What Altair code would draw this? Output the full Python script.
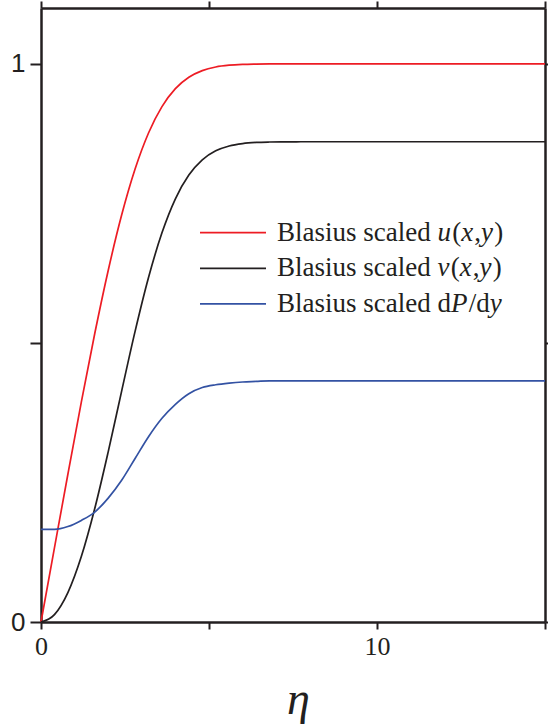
import altair as alt
import pandas as pd

# ---- data ----
eta = [0.0, 0.4, 0.8, 1.2, 1.6, 2.0, 2.4, 2.8, 3.2, 3.6, 4.0, 4.4, 4.8, 5.2,
       5.6, 6.0, 6.4, 6.8, 7.2, 7.6, 8.0, 15.0]
u_vals = [0.0, 0.1328, 0.2647, 0.3938, 0.5168, 0.6298, 0.7290, 0.8115, 0.8761,
          0.9233, 0.9555, 0.9759, 0.9878, 0.9943, 0.9975, 0.9990, 0.9996,
          0.9999, 1.0, 1.0, 1.0, 1.0]
v_vals = [0.0, 0.0133, 0.0528, 0.1173, 0.2033, 0.3048, 0.4136, 0.5206, 0.6172,
          0.6972, 0.7582, 0.8007, 0.8280, 0.8441, 0.8528, 0.8571, 0.8591,
          0.8599, 0.8602, 0.8603, 0.8604, 0.8604]
p_vals = [0.166, 0.166, 0.171, 0.182, 0.197, 0.222, 0.254, 0.293, 0.332, 0.365,
          0.390, 0.409, 0.420, 0.425, 0.428, 0.430, 0.431, 0.432, 0.432, 0.432,
          0.432, 0.432]

series = ["u", "v", "p"]
colors = ["#ed1c24", "#231f20", "#3352a3"]
x_ticks = [0, 5, 10, 15]
y_ticks = [0, 0.5, 1]

rows = []
for s, vals in zip(series, [u_vals, v_vals, p_vals]):
    for e, val in zip(eta, vals):
        rows.append({"eta": e, "val": val, "series": s})
df = pd.DataFrame(rows)

INK = "#231f20"
SERIF = "Liberation Serif"
SANS = "Liberation Sans"
W, H = 504, 614

xscale = alt.Scale(domain=[0, 15], nice=False, zero=False)
yscale = alt.Scale(domain=[0, 1.1], nice=False, zero=False)

common_axis = dict(domainColor=INK, domainWidth=2.5, tickColor=INK,
                   tickWidth=2, grid=False, labelColor=INK, titleColor=INK)

x_axis = alt.Axis(values=x_ticks, orient="bottom", tickSize=7, labelFont=SERIF,
                  labelFontSize=26, labelPadding=4, format="d", labelFlush=False,
                  labelExpr="datum.value == 0 || datum.value == 10 ? datum.label : ''",
                  title="η", titleFont=SERIF, titleFontStyle="italic",
                  titleFontWeight="normal", titleFontSize=46, titlePadding=18,
                  titleX=257, **common_axis)
y_axis = alt.Axis(values=y_ticks, orient="left", tickSize=11, labelFont=SANS,
                  labelFontSize=26, labelPadding=5, format="~g", labelFlush=False,
                  labelExpr="datum.value == 0 || datum.value == 1 ? datum.label : ''",
                  title=None, **common_axis)
x_axis_top = alt.Axis(values=x_ticks, orient="top", tickSize=7, labels=False, title=None,
                      **common_axis)
y_axis_right = alt.Axis(values=y_ticks, orient="right", tickSize=7, labels=False,
                        title=None, **common_axis)

lines = alt.Chart(df).mark_line(strokeWidth=1.7, interpolate="monotone").encode(
    x=alt.X("eta:Q", scale=xscale, axis=x_axis),
    y=alt.Y("val:Q", scale=yscale, axis=y_axis),
    color=alt.Color("series:N", scale=alt.Scale(domain=series, range=colors), legend=None),
)

frame = alt.Chart(df).mark_point(opacity=0).encode(
    x=alt.X("eta:Q", scale=xscale, axis=x_axis_top),
    y=alt.Y("val:Q", scale=yscale, axis=y_axis_right),
)

# ---- legend (pixel layout relative to the plot origin) ----
dummy = pd.DataFrame({"a": [0]})
leg_rows_y = [224.7, 260.3, 295.8]
line_x0, line_x1, text_x = 159, 225, 236
FS = 27
W_REG = {"B": .667, "l": .278, "a": .444, "s": .389, "i": .278, "u": .5, " ": .25,
         "c": .444, "e": .444, "d": .5, "(": .333, ")": .333, ",": .25, "/": .278, "y": .5}
W_IT = {"u": .5, "x": .444, "y": .444, "v": .444, "P": .611}
legend_texts = [
    [("Blasius scaled ", False), ("u", True), ("(", False), ("x", True), (",", False),
     ("y", True), (")", False)],
    [("Blasius scaled ", False), ("v", True), ("(", False), ("x", True), (",", False),
     ("y", True), (")", False)],
    [("Blasius scaled d", False), ("P", True), ("/d", False), ("y", True)],
]
legend_layers = []
for ry, col, segs in zip(leg_rows_y, colors, legend_texts):
    legend_layers.append(
        alt.Chart(dummy).mark_rule(strokeWidth=1.7).encode(
            x=alt.value(line_x0), x2=alt.value(line_x1), y=alt.value(ry),
            color=alt.value(col)))
    cx = text_x
    for seg, it in segs:
        kw = dict(font=SERIF, fontSize=FS, align="left", baseline="alphabetic", color=INK)
        if it:
            kw["fontStyle"] = "italic"
        legend_layers.append(
            alt.Chart(dummy).mark_text(**kw).encode(
                x=alt.value(cx), y=alt.value(ry + 8), text=alt.value(seg)))
        table = W_IT if it else W_REG
        cx += sum(table.get(ch, 0.5) for ch in seg) * FS + (1.2 if it else 0)

chart = alt.layer(lines, frame, *legend_layers).resolve_axis(
    x="independent", y="independent"
).properties(
    width=W, height=H, background="white",
    autosize=alt.AutoSizeParams(type="none"),
    padding={"left": 41, "top": 8, "right": 3, "bottom": 105},
).configure_view(stroke=None)

chart.save("out.html", embed_options={"renderer": "svg", "actions": False})
